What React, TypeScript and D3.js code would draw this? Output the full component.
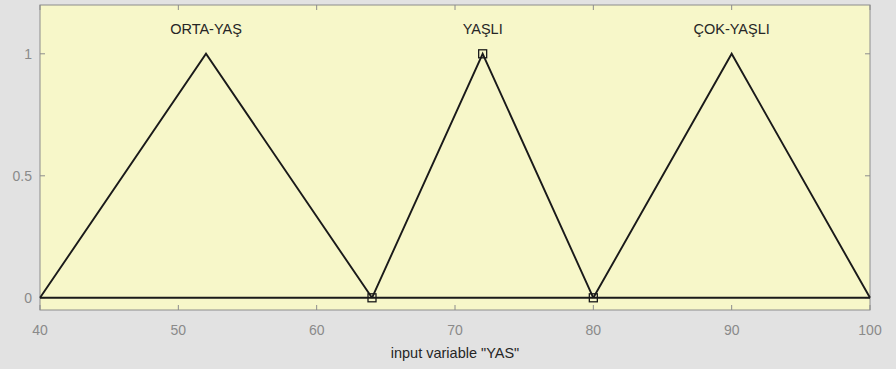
import React from "react";
import * as d3 from "d3";

// Membership functions of input variable "YAS" (triangular, params [a b c])
const mfNames = ["ORTA-YAŞ", "YAŞLI", "ÇOK-YAŞLI"];
const mfParams: number[][] = [
  [40, 52, 64],
  [64, 72, 80],
  [80, 90, 100],
];
const selectedMf = 1;
const xRange = [40, 100];
const xTicks = [40, 50, 60, 70, 80, 90, 100];
const yTicks = [0, 0.5, 1];
const axisLabel = 'input variable "YAS"';

const W = 896;
const H = 369;
const plot = { left: 40, right: 870, top: 5, bottom: 310 };

export default function App() {
  const x = d3.scaleLinear().domain(xRange).range([plot.left, plot.right]);
  const y = d3.scaleLinear().domain([-0.05, 1.2]).range([plot.bottom, plot.top]);
  const line = d3
    .line<[number, number]>()
    .x((d) => x(d[0]))
    .y((d) => y(d[1]));

  const font = "'Liberation Sans', Arial, Helvetica, sans-serif";
  const tickLen = 5;
  const frameColor = "#8c8c8c";
  const tickColor = "#8a8a8a";
  const sel = mfParams[selectedMf];
  const selPts: [number, number][] = [
    [sel[0], 0],
    [sel[1], 1],
    [sel[2], 0],
  ];

  return (
    <div style={{ position: "fixed", left: 0, top: 0 }}>
      <svg width={W} height={H} style={{ display: "block" }}>
        <rect x={0} y={0} width={W} height={H} fill="#e2e2e2" />
        <rect
          x={plot.left}
          y={plot.top}
          width={plot.right - plot.left}
          height={plot.bottom - plot.top}
          fill="#f7f7c9"
        />
        {/* ticks on all four sides, pointing inward */}
        {xTicks.map((t) => (
          <g key={"xt" + t}>
            <line x1={x(t)} x2={x(t)} y1={plot.bottom} y2={plot.bottom - tickLen} stroke={frameColor} />
            <line x1={x(t)} x2={x(t)} y1={plot.top} y2={plot.top + tickLen} stroke={frameColor} />
            <text
              x={x(t)}
              y={plot.bottom + 25}
              textAnchor="middle"
              fontFamily={font}
              fontSize={14}
              fill={tickColor}
            >
              {t}
            </text>
          </g>
        ))}
        {yTicks.map((t) => (
          <g key={"yt" + t}>
            <line x1={plot.left} x2={plot.left + tickLen} y1={y(t)} y2={y(t)} stroke={frameColor} />
            <line x1={plot.right} x2={plot.right - tickLen} y1={y(t)} y2={y(t)} stroke={frameColor} />
            <text
              x={plot.left - 8}
              y={y(t)}
              dy="0.35em"
              textAnchor="end"
              fontFamily={font}
              fontSize={14}
              fill={tickColor}
            >
              {t}
            </text>
          </g>
        ))}
        <rect
          x={plot.left}
          y={plot.top}
          width={plot.right - plot.left}
          height={plot.bottom - plot.top}
          fill="none"
          stroke={frameColor}
          strokeWidth={1}
        />
        {/* zero baseline */}
        <path
          d={line([
            [xRange[0], 0],
            [xRange[1], 0],
          ]) || ""}
          stroke="#1a1a1a"
          strokeWidth={2}
          fill="none"
        />
        {mfParams.map((p, i) => (
          <g key={"mf" + i}>
            <path
              d={line([
                [p[0], 0],
                [p[1], 1],
                [p[2], 0],
              ]) || ""}
              stroke="#1a1a1a"
              strokeWidth={1.9}
              fill="none"
              strokeLinejoin="miter"
            />
            <text
              x={x(p[1])}
              y={y(1.1)}
              dy="0.35em"
              textAnchor="middle"
              fontFamily={font}
              fontSize={14.5}
              fill="#262626"
            >
              {mfNames[i]}
            </text>
          </g>
        ))}
        {selPts.map((d, i) => (
          <rect
            key={"sq" + i}
            x={x(d[0]) - 4}
            y={y(d[1]) - 4}
            width={8}
            height={8}
            fill="none"
            stroke="#1a1a1a"
            strokeWidth={1.3}
          />
        ))}
        <text
          x={(plot.left + plot.right) / 2}
          y={353}
          dy="0.35em"
          textAnchor="middle"
          fontFamily={font}
          fontSize={14.5}
          fill="#262626"
        >
          {axisLabel}
        </text>
      </svg>
    </div>
  );
}
